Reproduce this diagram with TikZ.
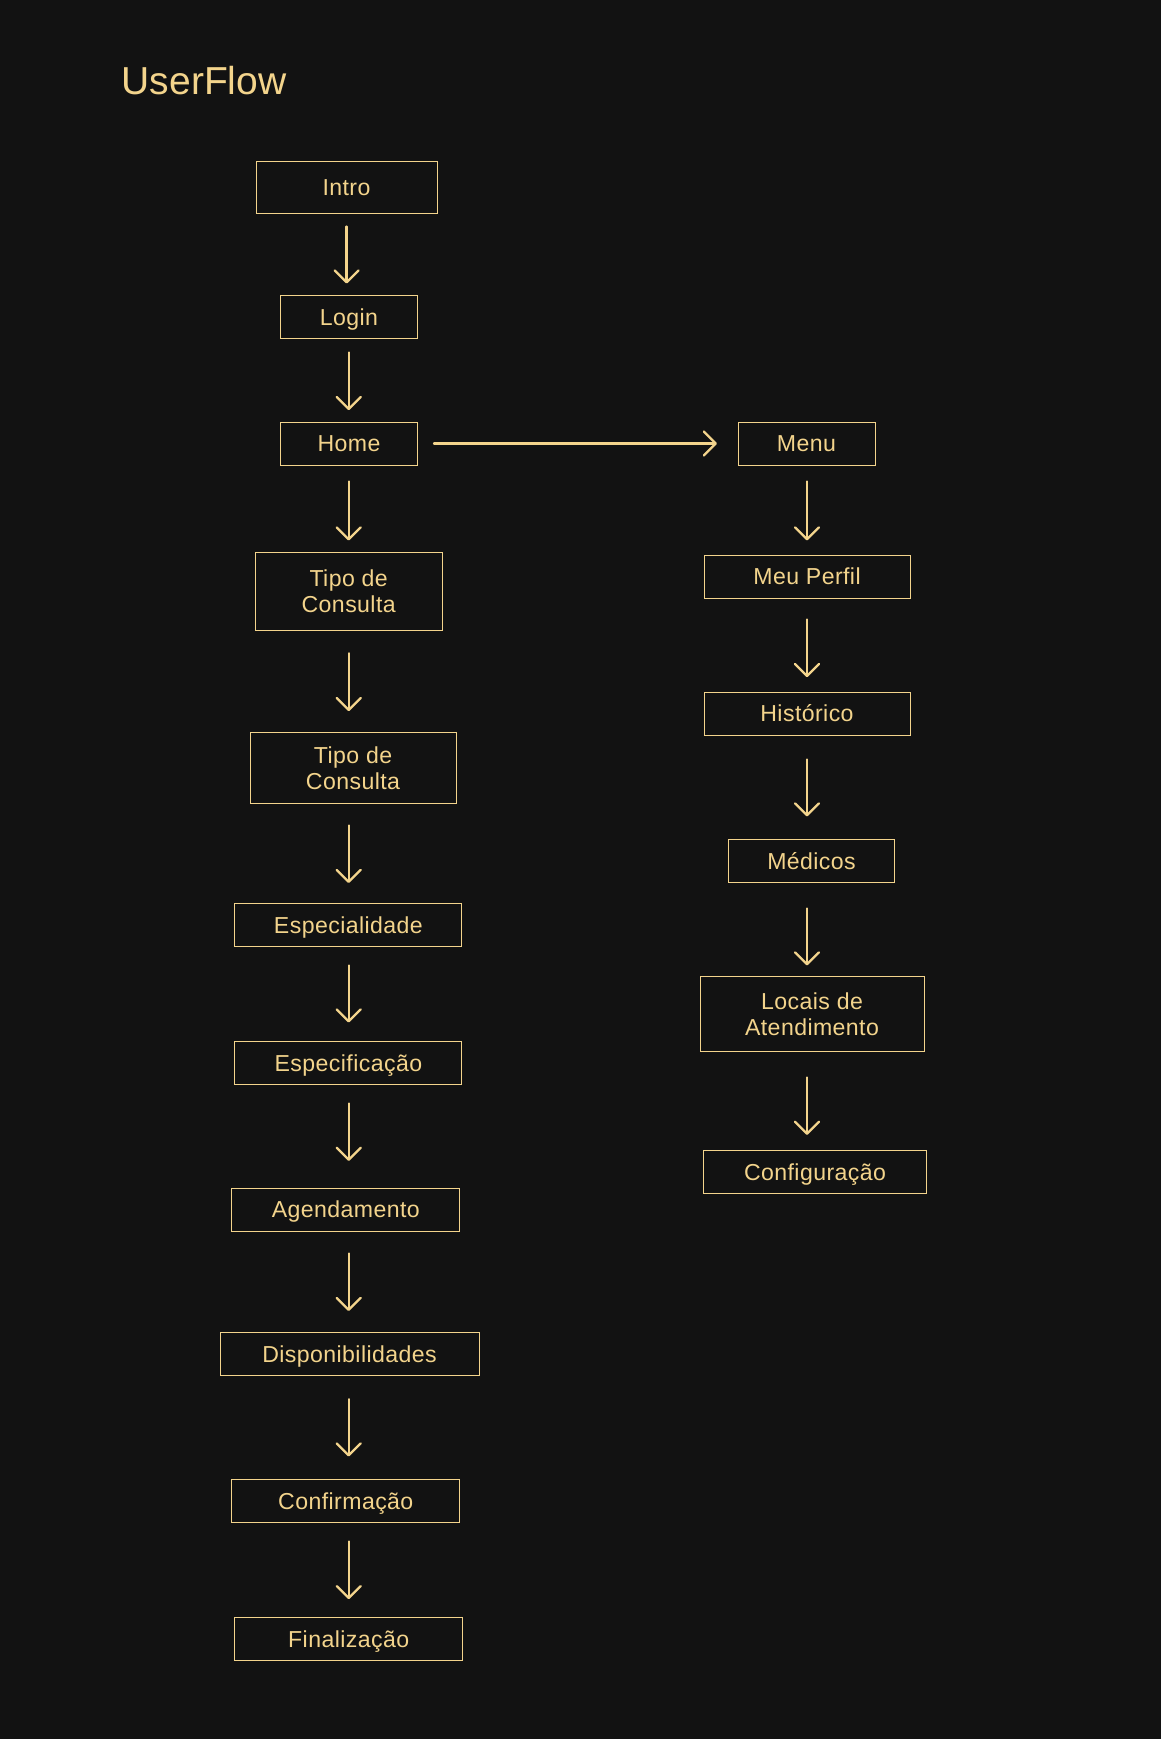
\documentclass[tikz,border=0pt]{standalone}
\usepackage{fontspec}
\setmainfont{Liberation Sans}
\usetikzlibrary{arrows.meta}
\definecolor{bg}{HTML}{121212}
\definecolor{gold}{HTML}{F3D48C}
\newfontfamily\boxfont[LetterSpace=1.8]{Liberation Sans}
\tikzset{
  box/.style={draw=gold, line width=1pt, text=gold, inner sep=0pt, align=center,
    font=\boxfont\fontsize{23.1}{25.5}\selectfont},
  one/.style={text height=16.5pt, text depth=0pt},
  arr/.style={draw=gold, line width=2.3pt, line cap=round,
    -{Straight Barb[length=12pt,width=24pt,line width=2.3pt,round]}},
}
\newcommand\varr[5]{\draw[arr] ([yshift=-#3pt]#1.south -| #5) -- ([yshift=#4pt]#2.north -| #5);}
\begin{document}
\begin{tikzpicture}[x=1pt,y=-1pt]
\fill[bg] (0,0) rectangle (1161,1739);
\useasboundingbox (0,0) rectangle (1161,1739);
\node[anchor=base west, text=gold, inner sep=0pt, font=\fontsize{39}{44}\selectfont] (title) at (121.5,95) {UserFlow};
\coordinate (cL) at (348.7,0);
\coordinate (cI) at (346.6,0);
\coordinate (cR) at (807,0);
% left column
\node[box, one, minimum width=181pt, minimum height=51pt] (intro) at (346.5,187.5) {Intro};
\node[box, one, minimum width=137pt, minimum height=43pt] (login) at (349,317) {Login};
\node[box, one, minimum width=137pt, minimum height=43pt] (home) at (349,443.5) {Home};
\node[box, minimum width=187pt, minimum height=78pt] (tipo1) at (348.7,591) {Tipo de\\Consulta};
\node[box, minimum width=206pt, minimum height=71pt] (tipo2) at (353,768) {Tipo de\\Consulta};
\node[box, one, minimum width=227pt, minimum height=43pt] (espec) at (348.4,925) {Especialidade};
\node[box, one, minimum width=227pt, minimum height=43pt] (espf) at (348.4,1063) {Especificação};
\node[box, one, minimum width=228pt, minimum height=43pt] (agend) at (345.8,1209.5) {Agendamento};
\node[box, one, minimum width=259pt, minimum height=43pt] (disp) at (349.5,1354) {Disponibilidades};
\node[box, one, minimum width=228pt, minimum height=43pt] (conf) at (345.8,1501) {Confirmação};
\node[box, one, minimum width=228pt, minimum height=43pt] (final) at (348.7,1639) {Finalização};
% right column
\node[box, one, minimum width=137pt, minimum height=43pt] (menu) at (806.5,443.5) {Menu};
\node[box, one, minimum width=206pt, minimum height=43pt] (perfil) at (807,576.5) {Meu Perfil};
\node[box, one, minimum width=206pt, minimum height=43pt] (hist) at (807,713.5) {Histórico};
\node[box, one, minimum width=166pt, minimum height=43pt] (med) at (811.5,861) {Médicos};
\node[box, minimum width=224pt, minimum height=75pt] (locais) at (812,1014) {Locais de\\Atendimento};
\node[box, one, minimum width=223pt, minimum height=43pt] (config) at (815,1172) {Configuração};
% arrows
\varr{intro}{login}{13}{11.5}{cI}
\varr{login}{home}{13.5}{11.4}{cL}
\varr{home}{tipo1}{16}{11}{cL}
\varr{tipo1}{tipo2}{22.8}{20.8}{cL}
\varr{tipo2}{espec}{21.5}{20}{cL}
\varr{espec}{espf}{18.5}{18.5}{cL}
\varr{espf}{agend}{18.5}{26.6}{cL}
\varr{agend}{disp}{22}{21}{cL}
\varr{disp}{conf}{23.2}{22.5}{cL}
\varr{conf}{final}{18.5}{17.8}{cL}
\varr{menu}{perfil}{16}{14}{cR}
\varr{perfil}{hist}{21}{14.3}{cR}
\varr{hist}{med}{24}{22.5}{cR}
\varr{med}{locais}{25.5}{10.5}{cR}
\varr{locais}{config}{25.5}{15.1}{cR}
\draw[arr] ([xshift=16pt]home.east) -- ([xshift=-20.5pt]menu.west);
\end{tikzpicture}
\end{document}
